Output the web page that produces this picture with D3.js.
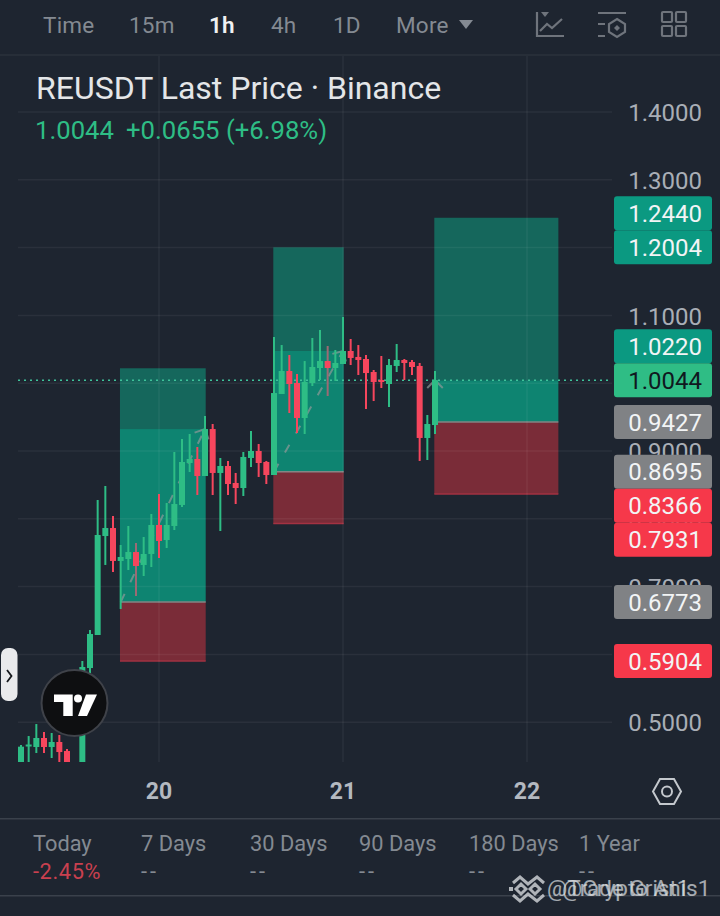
<!DOCTYPE html>
<html>
<head>
<meta charset="utf-8">
<script src="https://cdn.jsdelivr.net/npm/d3@7"></script>
<style>
  html, body { margin: 0; padding: 0; background: #1e2530; }
  svg { display: block; font-family: Roboto, sans-serif; }
  .axis path, .axis line { display: none; }
</style>
</head>
<body>
<svg id="chart" width="720" height="916"></svg>
<script>
// hourly candles, first one is the 19th 06:00
const opens  = [.4295,.4642,.4634,.4767,.4634,.4708,.4575,.4885,.4295,.5799,.6286,.7746,.7864,.7378,.7407,.7510,.7319,.7481,.7909,.7687,.7894,.8204,.8823,.8882,.8631,.9324,.8676,.8779,.8528,.8454,.8897,.9000,.8838,.8646,.9841,1.0180,1.0003,.9487,1.0003,1.0224,1.0327,1.0224,1.0283,1.0475,1.0387,1.0357,1.0165,1.0047,.9988,1.0254,1.0342,1.0313,1.0254,.9192,.9383];
const highs  = [.4664,.4796,.4973,.4855,.4841,.4811,.4605,.5681,.5903,.6360,.8277,.8484,.8041,.7614,.7894,.7643,.7732,.8071,.8366,.8233,.8985,.9177,.9251,.9059,.9516,.9398,.8897,.8853,.8676,.8985,.9295,.9103,.8853,1.0681,1.0563,1.0416,1.0136,1.0327,1.0667,1.0785,1.0549,1.0490,1.0976,1.0652,1.0563,1.0416,1.0195,1.0401,1.0357,1.0578,1.0357,1.0342,1.0298,.9531,1.0180];
const lows   = [.4221,.4295,.4546,.4546,.4472,.4295,.4221,.4841,.4221,.5726,.6286,.7319,.7215,.6670,.7245,.6861,.7156,.7289,.7422,.7569,.7835,.8174,.8690,.8351,.8631,.8351,.7820,.8351,.8218,.8336,.8764,.8617,.8513,.8646,.9841,.9560,.9265,.9251,.9959,1.0047,.9811,1.0032,1.0283,1.0268,1.0121,.9619,.9737,.9929,.9649,1.0165,1.0047,1.0121,.8853,.8867,.9251];
const closes = [.4639,.4671,.4767,.4634,.4708,.4560,.4295,.5622,.5814,.6301,.7761,.7864,.7378,.7437,.7510,.7304,.7481,.7909,.7673,.7909,.8218,.8838,.8882,.8631,.9324,.8676,.8779,.8513,.8454,.8912,.9000,.8823,.8646,.9855,1.0180,.9988,.9487,1.0018,1.0239,1.0327,1.0224,1.0298,1.0475,1.0372,1.0342,1.0150,1.0018,1.0018,1.0268,1.0342,1.0298,1.0239,.9192,.9398,1.0044];
// candles whose wick looks washed out by the arrow on top of it
const mutedWicks = [15, 40];

// long position tools, start/end are candle numbers
const toolStart  = [13, 33, 54];
const toolEnd    = [24, 42, 70];
const toolTarget = [1.0220, 1.2004, 1.2440];
const toolReach  = [.9324, 1.0475, 1.0044];
const toolEntry  = [.6773, .8695, .9427];
const toolStop   = [.5904, .7931, .8366];

const lastPrice = 1.0044;
const priceTicks = [1.4, 1.3, 1.2, 1.1, 1.0, .9, .8, .7, .6, .5];
const tagPrices = [1.2440, 1.2004, 1.0220, 1.0044, .9427, .8695, .8366, .7931, .6773, .5904];
const tagKinds  = ["target", "target", "target", "last", "entry", "entry", "stop", "stop", "entry", "stop"];
const tabs = ["Time", "15m", "1h", "4h", "1D", "More"];
const periods = ["Today", "7 Days", "30 Days", "90 Days", "180 Days", "1 Year"];
const periodValues = ["-2.45%", "--", "--", "--", "--", "--"];

const GREEN = "#2ebd85", RED = "#f6465d", GREY = "#848a92";
const tagColors = {target: "#0b9981", last: "#2fbd85", entry: "#808285", stop: "#f6384a"};
const H = 3600e3;

const svg = d3.select("#chart");
svg.append("rect").attr("width", 720).attr("height", 916).attr("fill", "#1e2530");

// scales: 184px a day, 678px per 1.0 of price
const dayStart = Date.UTC(2025, 5, 20);
const x = d3.scaleUtc().domain([dayStart, dayStart + 48 * H]).range([159, 527]);
const y = d3.scaleLinear().domain([.5, 1.4]).range([722.2, 112]);
const firstCandle = dayStart - 18 * H;
const t = i => firstCandle + i * H;

const plot = svg.append("g");
plot.append("clipPath").attr("id", "plotClip").append("rect")
  .attr("x", 0).attr("y", 55).attr("width", 612).attr("height", 707);

// position tools go under everything
const tools = plot.append("g").selectAll("g").data(toolStart).join("g");
const band = (hi, lo, fill) => tools.append("rect")
  .attr("x", (d, i) => x(t(toolStart[i])) - .7)
  .attr("width", (d, i) => x(t(toolEnd[i])) - x(t(toolStart[i])) + 1.4)
  .attr("y", (d, i) => y(hi[i]))
  .attr("height", (d, i) => y(lo[i]) - y(hi[i]))
  .attr("fill", fill);
band(toolTarget, toolReach, "#15675c");
band(toolReach, toolEntry, "#0e8471");
band(toolEntry, toolStop, "#7a2c38");
const toolLine = (vals, color) => tools.append("line")
  .attr("x1", (d, i) => x(t(toolStart[i])) - .7)
  .attr("x2", (d, i) => x(t(toolEnd[i])) + .7)
  .attr("y1", (d, i) => y(vals[i]))
  .attr("y2", (d, i) => y(vals[i]))
  .attr("stroke", color).attr("stroke-width", 1.5);
toolLine(toolEntry, "#858585");
toolLine(toolStop, "#a33242");

// grid
const grid = plot.append("g").attr("stroke", "rgba(255,255,255,.055)").attr("stroke-width", 1.5);
grid.selectAll(".h").data(priceTicks).join("line").attr("class", "h")
  .attr("x1", 18).attr("x2", 612).attr("y1", d => y(d)).attr("y2", d => y(d));
grid.selectAll(".v").data(x.ticks(d3.utcDay.every(1))).join("line").attr("class", "v")
  .attr("x1", d => x(d)).attr("x2", d => x(d)).attr("y1", 55).attr("y2", 762);

// dashed arrows entry -> last reached price
const arrows = plot.append("g").attr("fill", "none").attr("stroke", "#8f9a98")
  .attr("stroke-width", 2).attr("opacity", .7)
  .selectAll("g").data(toolStart).join("g");
const tipX = (d, i) => x(t(toolEnd[i] === 70 ? 54 : toolEnd[i]));
arrows.append("line")
  .attr("x1", (d, i) => x(t(toolStart[i]))).attr("y1", (d, i) => y(toolEntry[i]))
  .attr("x2", tipX).attr("y2", (d, i) => y(toolReach[i]))
  .attr("stroke-dasharray", "9 13");
arrows.append("path").attr("d", (d, i) => {
  const x0 = x(t(toolStart[i])), y0 = y(toolEntry[i]), x1 = tipX(d, i), y1 = y(toolReach[i]);
  const a = Math.atan2(y0 - y1, x0 - x1), n = 11;
  const bx = s => x1 + n * Math.cos(a + s * Math.PI / 4), by = s => y1 + n * Math.sin(a + s * Math.PI / 4);
  return `M${bx(1)},${by(1)}L${x1},${y1}L${bx(-1)},${by(-1)}`;
});

// last price line
plot.append("line").attr("x1", 18).attr("x2", 612)
  .attr("y1", y(lastPrice)).attr("y2", y(lastPrice))
  .attr("stroke", "#3fc29a").attr("stroke-width", 1.5).attr("stroke-dasharray", "2 4");

// candles
const candles = plot.append("g").attr("clip-path", "url(#plotClip)")
  .selectAll("g").data(opens).join("g");
const col = (d, i) => closes[i] >= opens[i] ? GREEN : RED;
candles.append("line")
  .attr("x1", (d, i) => x(t(i))).attr("x2", (d, i) => x(t(i)))
  .attr("y1", (d, i) => y(highs[i])).attr("y2", (d, i) => y(lows[i]))
  .attr("stroke", (d, i) => mutedWicks.includes(i) ? "#9c6a74" : col(d, i))
  .attr("stroke-width", 2);
candles.append("rect")
  .attr("x", (d, i) => x(t(i)) - 3).attr("width", 6)
  .attr("y", (d, i) => y(Math.max(opens[i], closes[i])))
  .attr("height", (d, i) => Math.max(2, Math.abs(y(opens[i]) - y(closes[i]))))
  .attr("fill", col);

// price axis, tags cover the ticks they land on
const yAxis = svg.append("g").attr("class", "axis").attr("transform", "translate(702,1)")
  .call(d3.axisLeft(y).tickValues(priceTicks).tickFormat(d3.format(".4f")).tickSize(0).tickPadding(0));
yAxis.selectAll("text").attr("font-size", 24).attr("fill", "#a9aeb6").attr("font-family", "Roboto, sans-serif");

// tags get pushed apart, the last price one stays put
const TAG_H = 34;
const tagY = tagPrices.map(d => y(d));
const lastIdx = tagKinds.indexOf("last");
for (let i = lastIdx + 1; i < tagY.length; i++) tagY[i] = Math.max(tagY[i], tagY[i - 1] + TAG_H);
for (let i = lastIdx - 1; i >= 0; i--) tagY[i] = Math.min(tagY[i], tagY[i + 1] - TAG_H);
const tags = svg.append("g").selectAll("g").data(tagPrices).join("g")
  .attr("transform", (d, i) => `translate(0,${tagY[i]})`);
tags.append("rect").attr("x", 614).attr("y", -TAG_H / 2).attr("width", 98).attr("height", TAG_H)
  .attr("rx", 3).attr("fill", (d, i) => tagColors[tagKinds[i]]);
tags.append("text").attr("x", 702).attr("dy", "0.36em").attr("text-anchor", "end")
  .attr("font-size", 24).attr("fill", (d, i) => tagKinds[i] === "last" ? "#10181f" : "#f2f4f5")
  .text(d => d.toFixed(4));

// time axis
const xAxis = svg.append("g").attr("class", "axis").attr("transform", "translate(-.5,799)")
  .call(d3.axisBottom(x).ticks(d3.utcDay.every(1)).tickFormat(d3.utcFormat("%d")).tickSize(0).tickPadding(0));
xAxis.selectAll("text").attr("font-size", 23).attr("font-weight", 700).attr("fill", "#b4b9c0")
  .attr("font-family", "Roboto, sans-serif").attr("dy", 0);

// top bar
const tabX = [43, 129, 209, 271, 333, 396];
svg.selectAll(".tab").data(tabs).join("text").attr("class", "tab")
  .attr("x", (d, i) => tabX[i]).attr("y", 33)
  .attr("font-size", 22.5).attr("letter-spacing", .2)
  .attr("font-weight", d => d === "1h" ? 600 : 400)
  .attr("fill", d => d === "1h" ? "#f0f1f2" : GREY).text(d => d);
svg.append("path").attr("d", "M459,20H473L466,29Z").attr("fill", GREY);
svg.append("rect").attr("y", 54).attr("width", 720).attr("height", 2).attr("fill", "#272e38");

const icons = svg.append("g").attr("fill", "none").attr("stroke", "#6f747c").attr("stroke-width", 2.2);
icons.append("path").attr("d", "M537,12V36H564M540,31L547,24L552,28L562,19");
icons.append("path").attr("d", "M541,12H549L545,17Z").attr("fill", "#6f747c").attr("stroke", "none");
icons.append("path").attr("d", "M598,13H626M598,24H605M598,36H605M617,19L625,24V32L617,37L609,32V24Z");
icons.append("path").attr("d", "M617,25L620,28L617,31L614,28Z").attr("fill", "#6f747c").attr("stroke", "none");
[[661, 12], [675, 12], [661, 26], [675, 26]].forEach(p => icons.append("rect")
  .attr("x", p[0] + 1).attr("y", p[1]).attr("width", 10).attr("height", 10).attr("rx", 1));

// title
svg.append("text").attr("x", 36).attr("y", 99).attr("font-size", 32).attr("fill", "#e4e6e8")
  .text("REUSDT Last Price · Binance");
svg.append("text").attr("x", 35).attr("y", 139).attr("font-size", 25.7).attr("fill", GREEN).text("1.0044");
svg.append("text").attr("x", 126).attr("y", 139).attr("font-size", 25.7).attr("fill", GREEN).text("+0.0655 (+6.98%)");

// side handle and tradingview badge
svg.append("rect").attr("x", 1).attr("y", 648).attr("width", 16.5).attr("height", 53).attr("rx", 7).attr("fill", "#e9eaec");
svg.append("path").attr("d", "M7,670L11.5,676L7,682").attr("fill", "none").attr("stroke", "#15181c").attr("stroke-width", 1.8);
svg.append("circle").attr("cx", 74.5).attr("cy", 703).attr("r", 33).attr("fill", "#0e0f11").attr("stroke", "#3f4249").attr("stroke-width", 2);
svg.append("path").attr("d", "M54,694.5H72.7V716H63.3V702H54Z").attr("fill", "#fff");
svg.append("circle").attr("cx", 78).attr("cy", 698.5).attr("r", 4).attr("fill", "#fff");
svg.append("path").attr("d", "M86,694.5H97L87,716H78Z").attr("fill", "#fff");

// settings hexagon
svg.append("path").attr("d", "M660,779H674L681,791.5L674,804H660L653,791.5Z").attr("fill", "none").attr("stroke", "#c4c8cd").attr("stroke-width", 2);
svg.append("circle").attr("cx", 667).attr("cy", 791.5).attr("r", 5).attr("fill", "none").attr("stroke", "#c4c8cd").attr("stroke-width", 2);

// bottom strip
svg.append("rect").attr("y", 818).attr("width", 720).attr("height", 1.5).attr("fill", "#3a414b");
svg.append("rect").attr("y", 895).attr("width", 720).attr("height", 1.5).attr("fill", "#3a414b");
const periodX = [33, 141, 250, 359, 469, 579];
svg.selectAll(".period").data(periods).join("text").attr("class", "period")
  .attr("x", (d, i) => periodX[i]).attr("y", 851).attr("font-size", 21.8).attr("fill", GREY).text(d => d);
svg.selectAll(".pval").data(periodValues).join("text").attr("class", "pval")
  .attr("x", (d, i) => periodX[i]).attr("y", 879).attr("font-size", 21.8)
  .attr("fill", d => d === "--" ? GREY : "#c9404f").attr("letter-spacing", d => d === "--" ? 3 : .6).text(d => d);

// two watermarks stacked on top of each other
const mark = svg.append("g").attr("fill", "none").attr("stroke", "#d5d8dc").attr("stroke-width", 3).attr("opacity", .8);
mark.append("path").attr("d", "M513,883L520,877L528,884L537,877L544,883M513,895L520,901L528,894L537,901L544,895");
mark.append("path").attr("d", "M516,889L521,884L526,889L521,894ZM530,889L535,884L540,889L535,894Z");
mark.append("path").attr("d", "M509,889H513").attr("stroke-width", 4);
svg.append("text").attr("x", 547).attr("y", 896).attr("font-size", 22.5).attr("fill", "#dfe2e5").attr("opacity", .7).text("@Trade Grist1");
svg.append("text").attr("x", 562).attr("y", 896).attr("font-size", 22.5).attr("fill", "#dfe2e5").attr("opacity", .7).text("@Crypto Anis1");
</script>
</body>
</html>
